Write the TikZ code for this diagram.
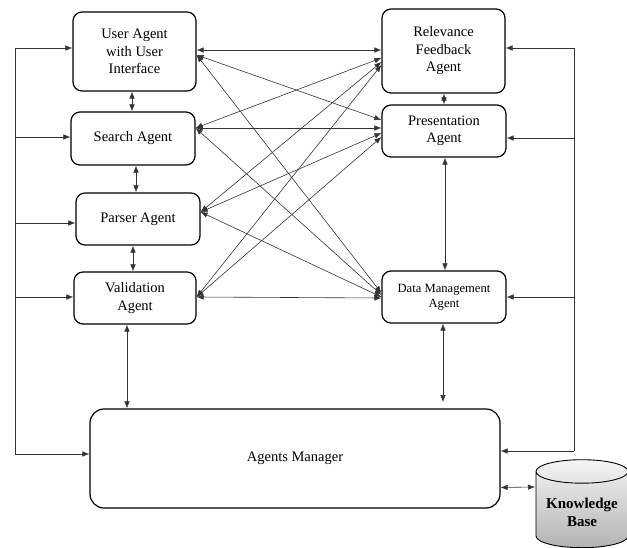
\documentclass[tikz,border=0pt]{standalone}
\usepackage{fontspec}
\setmainfont{Liberation Serif}
\usepackage{tikz}
\usetikzlibrary{shapes.geometric,arrows.meta}

\tikzset{agent/.style={draw, line width=1.2pt, rounded corners=9pt, align=center, inner sep=0pt,
  font=\fontsize{14.5}{17.5}\selectfont},
  link/.style={<->, line width=0.6pt, black!80},
  bus/.style={line width=0.6pt, black!80}}

\begin{document}
\begin{tikzpicture}[x=1pt, y=-1pt, >={Latex[length=7pt,width=5.5pt]}]
\useasboundingbox (0,0) rectangle (627,548);
\node[agent, minimum width=123pt, minimum height=79pt] (ua) at (134.5,51.5) {User Agent\\with User\\Interface};
\node[agent, minimum width=124pt, minimum height=53pt] (sa) at (133,138.5) {Search Agent};
\node[agent, minimum width=124pt, minimum height=52pt] (pa) at (138,219) {Parser Agent};
\node[agent, minimum width=122pt, minimum height=52pt] (va) at (135,298) {Validation\\Agent};
\node[agent, minimum width=123pt, minimum height=84pt] (rf) at (443.5,51) {Relevance\\Feedback\\Agent};
\node[agent, minimum width=124pt, minimum height=52pt] (pr) at (444,131) {Presentation\\Agent};
\node[agent, minimum width=124pt, minimum height=52pt, font=\fontsize{12.6}{15}\selectfont] (dm) at (444,297) {Data Management\\Agent};
\node[agent, minimum width=410pt, minimum height=99pt, rounded corners=14pt] (am) at (295,458.5) {Agents Manager};
\node[cylinder, shape border rotate=90, aspect=0.3, draw, line width=0.9pt, minimum width=92pt, minimum height=88pt,
  top color=gray!8, bottom color=gray!60, align=center, font=\bfseries\fontsize{15}{18}\selectfont] (kb) at (582,512) {Knowledge\\Base};

% left column
\draw[link] ([xshift=-2.5pt]ua.south) -- ([xshift=-1pt]sa.north);
\draw[link] ([xshift=3pt]sa.south) -- ([xshift=-2pt]pa.north);
\draw[link] ([xshift=-5pt]pa.south) -- ([xshift=-2pt]va.north);
\draw[link] ([xshift=-8pt]va.south) -- ([xshift=-168pt]am.north);

% right column
\draw[link] ([xshift=0.5pt]rf.south) -- (pr.north);
\draw[link] ([xshift=1pt]pr.south) -- ([xshift=1pt]dm.north);
\coordinate (amtop) at (443,402);
\draw[link] ([xshift=-1pt]dm.south) -- (amtop);
\coordinate (kbin) at (535,487);
\draw[link] ([yshift=-29pt]am.east) -- (kbin);

% agents to agents
\draw[link] ([yshift=1.5pt]ua.east) -- ([yshift=1pt]rf.west);
\draw[link] ([yshift=-3.5pt]ua.east) -- ([yshift=11pt]pr.west);
\draw[link] ([yshift=-3.5pt]ua.east) -- ([yshift=4pt]dm.west);
\draw[link] ([yshift=10.5pt]sa.east) -- ([yshift=-7pt]rf.west);
\draw[link] ([yshift=10.5pt]sa.east) -- ([yshift=3pt]pr.west);
\draw[link] ([yshift=10.5pt]sa.east) -- ([yshift=2pt]dm.west);
\draw[link] ([yshift=7pt]pa.east) -- ([yshift=-11pt]rf.west);
\draw[link] ([yshift=7pt]pa.east) -- ([yshift=-2pt]pr.west);
\draw[link] ([yshift=7pt]pa.east) -- (dm.west);
\draw[link] ([yshift=1pt]va.east) -- ([yshift=-14pt]rf.west);
\draw[link] ([yshift=1pt]va.east) -- ([yshift=-6pt]pr.west);
\draw[link] ([yshift=1pt]va.east) -- ([yshift=-1pt]dm.west);

% left bus
\coordinate (l1) at (15,48);
\coordinate (l2) at (15,137);
\coordinate (l3) at (15,223);
\coordinate (l4) at (15,297);
\coordinate (l5) at (15,454);
\draw[bus] (l1) -- (l5);
\draw[bus, ->] (l1) -- (l1 -| ua.west);
\draw[bus, ->] (l2) -- (l2 -| sa.west);
\draw[bus, ->] (l3) -- (l3 -| pa.west);
\draw[bus, ->] (l4) -- (l4 -| va.west);
\draw[bus, ->] (l5) -- (l5 -| am.west);

% right bus
\coordinate (r1) at (574,48);
\coordinate (r2) at (574,138);
\coordinate (r3) at (574,297);
\coordinate (r4) at (574,451);
\draw[bus] (r1) -- (r4);
\draw[bus, ->] (r1) -- (r1 -| rf.east);
\draw[bus, ->] (r2) -- (r2 -| pr.east);
\draw[bus, ->] (r3) -- (r3 -| dm.east);
\draw[bus, ->] (r4) -- (r4 -| am.east);
\end{tikzpicture}
\end{document}
